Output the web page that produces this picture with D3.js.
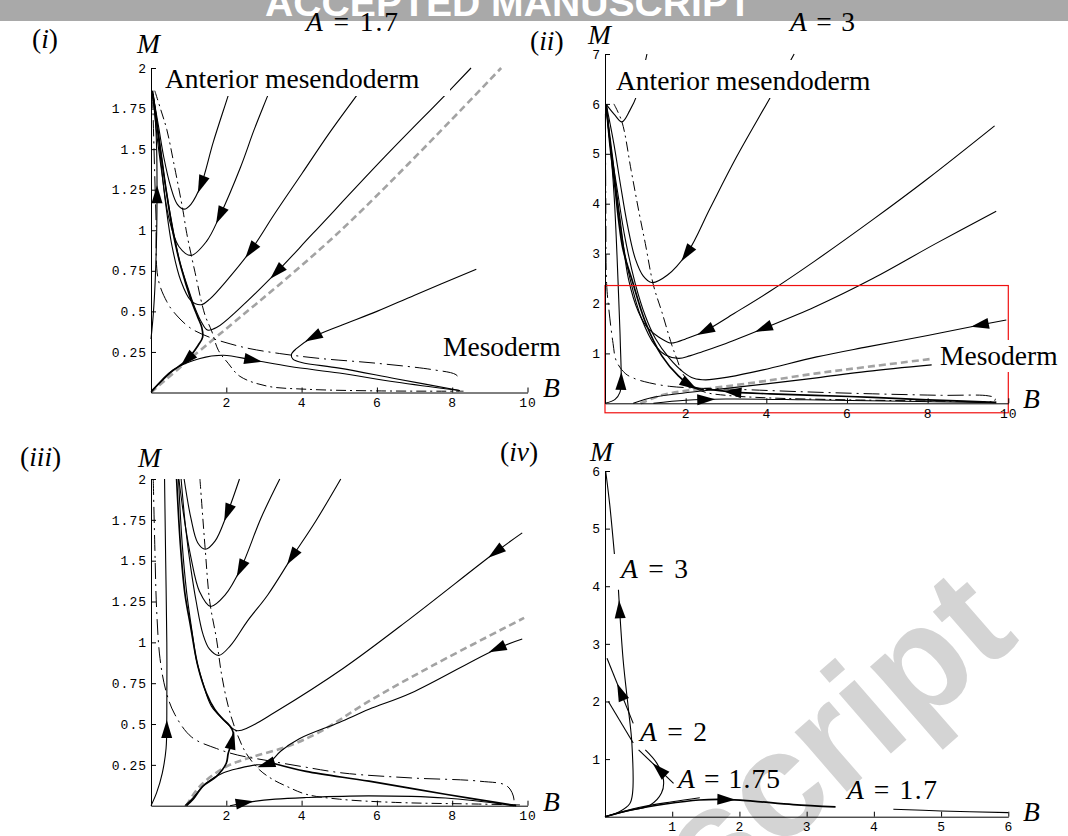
<!DOCTYPE html>
<html>
<head>
<meta charset="utf-8">
<script src="https://cdn.jsdelivr.net/npm/d3@7"></script>
<style>
  body { margin: 0; background: #fff; }
  svg { display: block; }
  .math { font-family: "Liberation Serif", "Times New Roman", serif; font-size: 27.5px; white-space: pre; }
</style>
</head>
<body>
<svg id="fig" width="1068" height="836"></svg>
<script>
// ---------- data: points are [B, M] ----------

// (i) A = 1.7
var p1Traj = [
  [[2.28,2.0],[2.05,1.83],[1.65,1.54],[1.33,1.28],[1.06,1.16],[0.88,1.13],[0.70,1.16],[0.52,1.27],[0.34,1.45],[0.20,1.64],[0.05,1.84]],
  [[3.39,2.0],[3.10,1.83],[2.74,1.62],[2.38,1.39],[1.83,1.09],[1.47,0.93],[1.06,0.845],[0.74,0.90],[0.47,1.08],[0.29,1.35],[0.15,1.60],[0.05,1.84]],
  [[5.99,2.0],[5.46,1.83],[4.74,1.60],[4.01,1.35],[3.28,1.10],[2.65,0.875],[2.01,0.69],[1.56,0.576],[1.33,0.541],[1.06,0.566],[0.79,0.69],[0.56,0.90],[0.38,1.18],[0.25,1.45],[0.13,1.72],[0.05,1.84]],
  [[8.5,2.0],[7.8,1.83],[6.2,1.45],[4.3,0.98],[3.33,0.74],[2.36,0.52],[1.74,0.40],[1.5,0.385],[1.35,0.43],[1.17,0.52],[0.99,0.64],[0.77,0.80],[0.59,1.0],[0.40,1.25],[0.25,1.5],[0.12,1.72],[0.05,1.84]],
  [[8.64,0.76],[7.0,0.60],[6.0,0.50],[5.01,0.41],[4.3,0.34],[3.86,0.27],[3.73,0.235],[3.77,0.205],[4.0,0.185],[5.0,0.15],[6.5,0.085],[8.2,0.012]],
  [[0.02,0.005],[0.59,0.14],[1.30,0.21],[1.92,0.23],[2.71,0.20],[3.69,0.16],[5.0,0.12],[6.5,0.065],[8.2,0.012]],
  [[0.0,0.33],[0.06,0.48],[0.11,0.68],[0.15,0.98],[0.16,1.25],[0.15,1.5],[0.11,1.7],[0.05,1.84]]
];
var p1Thick = [
  [[0.02,0.01],[0.5,0.12],[0.95,0.20],[1.25,0.29],[1.37,0.34],[1.35,0.40],[1.25,0.46],[1.05,0.58],[0.8,0.77],[0.59,0.98],[0.40,1.25],[0.25,1.5],[0.12,1.72],[0.04,1.86]]
];
var p1Sep = [[0,0],[1,0.2],[5,0.99],[9.3,2.0]];
var p1NullM = [[0.1,1.86],[0.25,1.75],[0.42,1.62],[0.6,1.42],[0.85,1.12],[0.95,0.98],[1.17,0.74],[1.43,0.48],[1.61,0.38],[1.79,0.26],[2.05,0.18],[2.36,0.10],[3.07,0.04],[4.13,0.02],[6,0.01],[8.3,0.008]];
var p1NullB = [[0.04,1.85],[0.08,1.5],[0.13,1.1],[0.19,0.70],[0.42,0.56],[0.59,0.50],[1.03,0.40],[1.56,0.34],[2.10,0.30],[2.63,0.27],[3.42,0.24],[4.48,0.21],[6,0.18],[7.5,0.14],[8.1,0.11],[8.2,0.08]];
// arrows: [curve index (thick curves follow the thin ones), B, M, direction along point order]
var p1Arrows = [[0,1.33,1.28,1],[1,1.83,1.09,1],[2,2.65,0.875,1],[3,3.33,0.74,1],[4,4.3,0.34,1],[5,2.71,0.20,1],[6,0.16,1.22,1],[7,0.95,0.20,-1]];

// (ii) A = 3
var p2Traj = [
  [[0.03,5.99],[0.23,5.79],[0.42,5.64],[0.61,5.86],[0.80,6.19],[0.93,6.6],[1.04,7.0]],
  [[4.69,7.0],[4.14,6.19],[3.25,4.92],[2.6,3.9],[2.06,3.04],[1.55,2.57],[1.16,2.42],[0.95,2.55],[0.75,2.9],[0.55,3.6],[0.38,4.4],[0.22,5.2],[0.03,5.99]],
  [[9.66,5.56],[8,4.5],[6.64,3.68],[5.2,2.85],[4.1,2.25],[3.2,1.8],[2.48,1.45],[2.0,1.29],[1.7,1.21],[1.57,1.22],[1.08,1.49],[0.83,1.83],[0.58,2.5],[0.36,3.78],[0.14,5.12],[0.03,5.93]],
  [[9.70,3.85],[8.2,3.2],[6.64,2.50],[5.2,1.93],[3.93,1.50],[3.0,1.2],[2.40,1.03],[2.1,0.95],[1.83,0.90],[1.5,0.97],[1.24,1.16],[0.91,1.69],[0.62,2.5],[0.40,3.44],[0.19,4.92],[0.03,5.93]],
  [[9.95,1.67],[9.3,1.57],[8,1.36],[6.5,1.13],[5.25,0.93],[3.92,0.67],[3.08,0.53],[2.5,0.47],[2.2,0.5],[1.95,0.62],[1.6,0.9],[1.25,1.3],[1.0,1.75],[0.75,2.4],[0.5,3.3],[0.3,4.3],[0.13,5.2],[0.03,5.95]],
  [[0.7,0],[1.2,0.12],[2.0,0.21],[2.9,0.29],[4,0.39],[5.25,0.51],[6.5,0.64],[8.1,0.77]],
  [[1.2,0.0],[2.0,0.06],[3,0.085],[5,0.07],[7,0.045],[9.7,0.01]],
  [[0,0],[0.25,0.08],[0.37,0.22],[0.40,0.45],[0.38,1.2],[0.34,2.10],[0.23,4.11],[0.10,5.46],[0.03,5.99]]
];
var p2Thick = [
  [[0.03,5.99],[0.12,5.2],[0.23,4.45],[0.44,3.11],[0.66,2.5],[1.0,1.63],[1.41,0.95],[1.82,0.55],[2.16,0.34],[2.45,0.27]],
  [[9.7,0.02],[8,0.07],[6.64,0.12],[5.2,0.16],[4.1,0.19],[3.25,0.22],[2.8,0.26],[2.5,0.29]]
];
var p2Sep = [[0.88,0],[1.4,0.16],[2.0,0.25],[2.9,0.33],[4,0.45],[5.25,0.6],[6.5,0.73],[8.1,0.89]];
var p2NullM = [[0.22,6.0],[0.42,5.64],[0.65,4.66],[0.85,3.8],[1.0,3.2],[1.2,2.37],[1.41,1.83],[1.66,1.16],[1.8,0.85],[1.91,0.62],[2.16,0.35],[2.49,0.22],[3.0,0.16],[4,0.11],[6,0.07],[9.7,0.03]];
var p2NullB = [[0.01,5.8],[0.02,4.0],[0.04,2.4],[0.1,1.85],[0.2,1.2],[0.28,0.85],[0.5,0.6],[0.72,0.5],[1.1,0.41],[1.6,0.34],[2.4,0.3],[3.25,0.28],[4.94,0.23],[6.64,0.19],[8.34,0.16],[9.5,0.15],[9.68,0.1],[9.62,0.0]];
var p2Arrows = [[1,2.03,3.0,1],[2,2.48,1.45,1],[3,3.93,1.50,1],[4,9.3,1.57,1],[6,2.5,0.075,1],[7,0.39,0.45,1],[8,2.1,0.37,1],[9,3.16,0.225,1]];
var p2ZoomBox = [0, 10, -0.19, 2.36];

// (iii)
var p3Traj = [
  [[0,0],[0.15,0.08],[0.3,0.2],[0.4,0.35],[0.42,0.55],[0.42,1.0],[0.39,1.5],[0.36,2.0]],
  [[2.35,2.0],[2.01,1.78],[1.70,1.62],[1.44,1.57],[1.24,1.61],[1.06,1.76],[0.88,2.0]],
  [[3.42,2.0],[2.92,1.76],[2.38,1.45],[1.97,1.29],[1.58,1.22],[1.29,1.31],[1.06,1.52],[0.88,1.76],[0.74,2.0]],
  [[5.04,2.0],[4.37,1.74],[3.74,1.52],[3.10,1.29],[2.56,1.13],[2.11,0.98],[1.80,0.92],[1.55,0.96],[1.38,1.05],[1.2,1.25],[1.06,1.45],[0.92,1.7],[0.80,2.0]],
  [[9.86,1.67],[9.14,1.55],[6.91,1.15],[5.10,0.84],[3.28,0.57],[2.6,0.48],[2.27,0.46],[1.91,0.53],[1.6,0.61],[1.38,0.75],[1.2,0.9],[1.12,1.02],[0.95,1.3],[0.83,1.6],[0.73,2.0]],
  [[9.86,1.02],[9.18,0.96],[6.91,0.69],[5.79,0.59],[5.0,0.51],[3.94,0.41],[3.45,0.335],[3.2,0.275],[3.05,0.252],[2.8,0.25],[2.36,0.23],[1.91,0.2],[1.47,0.14],[1.12,0.05],[0.9,0]],
  [[2.1,0.0],[2.53,0.02],[3.3,0.04],[4.12,0.05],[5.79,0.06],[7.82,0.047],[9.64,0.0]]
];
var p3Thick = [
  [[0.68,2.0],[0.78,1.6],[0.9,1.3],[1.05,1.1],[1.25,0.85],[1.47,0.69],[1.69,0.59],[1.91,0.53],[2.09,0.49],[2.18,0.45],[2.12,0.37],[2.05,0.32],[2.0,0.26],[1.74,0.18],[1.38,0.12],[1.12,0.04],[0.94,0]],
  [[9.7,0.0],[7.82,0.07],[5.79,0.15],[4.12,0.21],[3.24,0.26]]
];
var p3Sep = [[0.94,0],[1.30,0.12],[2.0,0.24],[2.71,0.30],[3.59,0.36],[4.47,0.45],[5.79,0.64],[7.5,0.86],[9.91,1.15]];
var p3NullM = [[1.3,2.0],[1.44,1.57],[1.56,1.25],[1.74,1.02],[1.87,0.81],[2.05,0.61],[2.27,0.45],[2.53,0.32],[2.88,0.22],[3.24,0.16],[3.59,0.12],[4.12,0.07],[5,0.04],[6.5,0.02],[8.7,0.01],[9.8,0.005]];
var p3NullB = [[0.06,2.0],[0.1,1.6],[0.15,1.2],[0.24,0.9],[0.4,0.7],[0.63,0.56],[1.08,0.42],[1.74,0.35],[2.3,0.31],[3.0,0.28],[4.0,0.24],[5.10,0.20],[6.91,0.17],[8.73,0.15],[9.46,0.12],[9.64,0.04],[9.59,0]];
var p3Arrows = [[0,0.42,0.47,1],[1,2.03,1.79,1],[2,2.38,1.45,1],[3,3.74,1.52,1],[4,9.14,1.55,1],[5,9.18,0.96,1],[5,3.05,0.25,1],[6,2.5,0.02,1],[7,2.13,0.40,-1]];

// (iv) trajectories from the origin for several A
var p4Traj = [
  [[0.01,6.0],[0.07,5.42],[0.14,4.56]],
  [[0,0],[0.22,0.09],[0.37,0.23],[0.41,0.41],[0.40,1.27],[0.35,1.85],[0.27,2.72],[0.20,3.94]],
  [[0.42,1.62],[0.03,2.75]],
  [[0.05,2.0],[0.42,1.28]],
  [[1.02,0.58],[0.50,1.16]],
  [[0,0],[0.3,0.09],[0.67,0.20],[0.84,0.41],[0.87,0.64],[0.77,0.93],[0.60,1.16]],
  [[0,0],[0.5,0.16],[1.0,0.26],[1.41,0.33]],
  [[4.29,0.13],[5.0,0.1],[6.0,0.07]]
];
var p4Thick = [
  [[0,0],[0.4,0.12],[0.9,0.22],[1.4,0.29],[1.8,0.3],[2.2,0.27],[2.8,0.21],[3.43,0.17]]
];
var p4Arrows = [[1,0.22,3.6,1],[2,0.25,2.17,1],[4,0.8,0.82,1],[8,1.8,0.3,1]];

// tick values
var ticksI_x = [2,4,6,8,10], ticksI_y = [0.25,0.5,0.75,1,1.25,1.5,1.75,2];
var ticksII_x = [2,4,6,8,10], ticksII_y = [1,2,3,4,5,6,7];
var ticksIV_x = [1,2,3,4,5,6], ticksIV_y = [1,2,3,4,5,6];

// ---------- drawing ----------
var svg = d3.select("#fig");

// banner at the top
svg.append("rect").attr("x",0).attr("y",0).attr("width",1068).attr("height",21).attr("fill","#a9a9a9");
svg.append("text").attr("x",265).attr("y",16)
  .attr("font-family","Liberation Sans, Arial, sans-serif").attr("font-weight","bold")
  .attr("font-size",39).attr("fill","#fff")
  .attr("textLength",487).attr("lengthAdjust","spacingAndGlyphs")
  .text("ACCEPTED MANUSCRIPT");

// watermark behind panel (iv)
svg.append("text").attr("transform","translate(713,908) rotate(-41)")
  .attr("font-family","Liberation Sans, Arial, sans-serif").attr("font-weight","bold")
  .attr("font-size",150).attr("fill","#d4d4d4").text("script");

function arrowOn(g, node, px, py, dir) {
  var L = node.getTotalLength(), best = 0, bd = Infinity;
  for (var l = 0; l <= L; l += 1) {
    var p = node.getPointAtLength(l);
    var dd = (p.x-px)*(p.x-px) + (p.y-py)*(p.y-py);
    if (dd < bd) { bd = dd; best = l; }
  }
  var a = node.getPointAtLength(Math.max(0,best-4));
  var b = node.getPointAtLength(Math.min(L,best+4));
  var c = node.getPointAtLength(best);
  var ang = Math.atan2(b.y-a.y, b.x-a.x) * 180 / Math.PI;
  if (dir < 0) ang += 180;
  g.append("path").attr("d","M9,0L-9,-5.5L-9,5.5Z")
    .attr("transform","translate(" + c.x + "," + c.y + ") rotate(" + ang + ")")
    .attr("fill","#000");
}

function drawPanel(frame, d) {
  var x = d3.scaleLinear().domain(frame.xd).range([frame.x0, frame.x1]);
  var y = d3.scaleLinear().domain(frame.yd).range([frame.y0, frame.y1]);
  var g = svg.append("g");
  var line = d3.line().x(function(p){return x(p[0]);}).y(function(p){return y(p[1]);})
    .curve(d3.curveCatmullRom.alpha(0.5));

  if (d.sep) g.append("path").attr("d", line(d.sep)).attr("fill","none")
    .attr("stroke","#a3a3a3").attr("stroke-width",2.6).attr("stroke-dasharray","7,4");
  if (d.nullM) g.append("path").attr("d", line(d.nullM)).attr("fill","none")
    .attr("stroke","#000").attr("stroke-width",1).attr("stroke-dasharray","10,4,2,4");
  if (d.nullB) g.append("path").attr("d", line(d.nullB)).attr("fill","none")
    .attr("stroke","#000").attr("stroke-width",1).attr("stroke-dasharray","16,5,2,5");

  var nodes = [];
  d.traj.forEach(function(c){
    nodes.push(g.append("path").attr("d", line(c)).attr("fill","none")
      .attr("stroke","#000").attr("stroke-width",1.1).node());
  });
  d.thick.forEach(function(c){
    nodes.push(g.append("path").attr("d", line(c)).attr("fill","none")
      .attr("stroke","#000").attr("stroke-width",1.7).node());
  });
  d.arrows.forEach(function(a){ arrowOn(g, nodes[a[0]], x(a[1]), y(a[2]), a[3]); });
  return {x:x, y:y, g:g};
}

function drawAxes(p, xt, yt, xMinorStep, yMinorStep) {
  var x = p.x, y = p.y, g = p.g;
  var xd = x.domain(), yd = y.domain();
  var xMinor = d3.range(xd[0], xd[1] + 1e-9, xMinorStep);
  var yMinor = d3.range(yd[0], yd[1] + 1e-9, yMinorStep);
  var fmt = function(v){ return String(v); };

  var gx = g.append("g").attr("transform","translate(0," + y(0) + ")");
  gx.call(d3.axisBottom(x).tickValues(xMinor).tickSize(-2.5).tickSizeOuter(0).tickFormat(""));
  gx.call(d3.axisBottom(x).tickValues(xt).tickSize(-5).tickSizeOuter(0).tickPadding(5).tickFormat(fmt));
  gx.attr("font-family","Liberation Mono, Courier New, monospace").attr("font-size",13);

  var gy = g.append("g").attr("transform","translate(" + x(0) + ",0)");
  gy.call(d3.axisLeft(y).tickValues(yMinor).tickSize(-2.5).tickSizeOuter(0).tickFormat(""));
  gy.call(d3.axisLeft(y).tickValues(yt).tickSize(-5).tickSizeOuter(0).tickPadding(4).tickFormat(fmt));
  gy.attr("font-family","Liberation Mono, Courier New, monospace").attr("font-size",13);

  svg.selectAll(".tick text").style("letter-spacing","1px");
  svg.selectAll(".domain, .tick line").attr("stroke","#000");
}

function whiteBox(x0, y0, x1, y1) {
  svg.append("rect").attr("x",x0).attr("y",y0).attr("width",x1-x0).attr("height",y1-y0).attr("fill","#fff");
}

// label made of [text, italic] pieces; optional width stretches the spacing only
function mathText(x, y, parts, width) {
  var t = svg.append("text").attr("class","math").attr("x",x).attr("y",y);
  parts.forEach(function(pc){
    t.append("tspan").attr("font-style", pc[1] ? "italic" : "normal").text(pc[0]);
  });
  if (width) t.attr("textLength", width).attr("lengthAdjust","spacing");
}

// panel (i)
var P1 = drawPanel({xd:[0,10], yd:[0,2], x0:151, x1:527.5, y0:392.5, y1:68},
  {traj:p1Traj, thick:p1Thick, sep:p1Sep, nullM:p1NullM, nullB:p1NullB, arrows:p1Arrows});
whiteBox(160, 62, 450, 96);
whiteBox(438, 334, 568, 362);
drawAxes(P1, ticksI_x, ticksI_y, 0.25, 0.05);

// panel (ii)
var P2 = drawPanel({xd:[0,10], yd:[0,7], x0:605, x1:1008.3, y0:403.3, y1:54},
  {traj:p2Traj, thick:p2Thick, sep:p2Sep, nullM:p2NullM, nullB:p2NullB, arrows:p2Arrows});
P2.g.append("rect")
  .attr("x", P2.x(p2ZoomBox[0])).attr("y", P2.y(p2ZoomBox[3]))
  .attr("width", P2.x(p2ZoomBox[1]) - P2.x(p2ZoomBox[0]))
  .attr("height", P2.y(p2ZoomBox[2]) - P2.y(p2ZoomBox[3]))
  .attr("fill","none").attr("stroke","#f01010").attr("stroke-width",1.2);
whiteBox(611, 60, 886, 98);
whiteBox(932, 340, 1068, 372);
drawAxes(P2, ticksII_x, ticksII_y, 0.25, 0.2);

// panel (iii)
var P3 = drawPanel({xd:[0,10], yd:[0,2], x0:151, x1:527.5, y0:805.7, y1:479},
  {traj:p3Traj, thick:p3Thick, sep:p3Sep, nullM:p3NullM, nullB:p3NullB, arrows:p3Arrows});
drawAxes(P3, ticksI_x, ticksI_y, 0.25, 0.05);

// panel (iv)
var P4 = drawPanel({xd:[0,6], yd:[0,6], x0:605, x1:1008.3, y0:816.7, y1:471},
  {traj:p4Traj, thick:p4Thick, arrows:p4Arrows});
drawAxes(P4, ticksIV_x, ticksIV_y, 0.2, 0.2);

// text
mathText(32, 48, [["(",0],["i",1],[")",0]]);
mathText(137, 53, [["M",1]]);
mathText(306, 31, [["A",1],[" = 1.7",0]], 92);
mathText(165, 88, [["Anterior mesendoderm",0]]);
mathText(443, 356, [["Mesoderm",0]]);
mathText(543, 397, [["B",1]]);

mathText(530, 50, [["(",0],["ii",1],[")",0]]);
mathText(588, 44, [["M",1]]);
mathText(790, 31, [["A",1],[" = 3",0]], 65);
mathText(616, 90, [["Anterior mesendoderm",0]]);
mathText(940, 365, [["Mesoderm",0]]);
mathText(1023, 408, [["B",1]]);

mathText(20, 466, [["(",0],["iii",1],[")",0]]);
mathText(138, 467, [["M",1]]);
mathText(543, 811, [["B",1]]);

mathText(500, 461, [["(",0],["iv",1],[")",0]]);
mathText(590, 461, [["M",1]]);
mathText(1023, 821, [["B",1]]);
mathText(621, 578, [["A",1],[" = 3",0]], 67);
mathText(640, 741, [["A",1],[" = 2",0]], 67);
mathText(678, 788, [["A",1],[" = 1.75",0]], 102);
mathText(847, 799, [["A",1],[" = 1.7",0]], 90);
</script>
</body>
</html>
